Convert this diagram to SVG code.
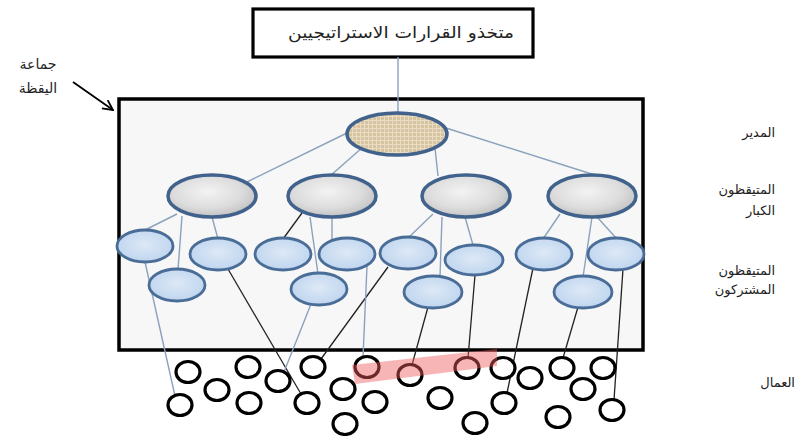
<svg xmlns="http://www.w3.org/2000/svg" width="810" height="436" viewBox="0 0 810 436">
<defs>
<style>
.lbl{font-family:"DejaVu Sans","Noto Sans",sans-serif;font-size:13px;fill:#222}
.tree{stroke:#8aa2bc;stroke-width:1.4;fill:none}
.blk{stroke:#222;stroke-width:1.3;fill:none}
.sen{fill:url(#gGray);stroke:#41628c;stroke-width:3.5}
.par{fill:url(#gBlue);stroke:#4a6d98;stroke-width:2.8}
.wk{fill:#fff;stroke:#000;stroke-width:3.2}
</style>
<pattern id="pTan" width="4" height="4" patternUnits="userSpaceOnUse">
<rect width="4" height="4" fill="#d6c4a0"/>
<path d="M0,0.5H4M0.5,0V4" stroke="#e9dcc2" stroke-width="1"/>
</pattern>
<radialGradient id="gGray" cx="0.45" cy="0.4" r="0.65">
<stop offset="0" stop-color="#f3f3f3"/>
<stop offset="0.6" stop-color="#dcdcdc"/>
<stop offset="1" stop-color="#bdbdbd"/>
</radialGradient>
<radialGradient id="gBlue" cx="0.5" cy="0.45" r="0.6">
<stop offset="0" stop-color="#dde9f6"/>
<stop offset="1" stop-color="#bcd3ee"/>
</radialGradient>
<marker id="arr" viewBox="0 0 12 12" refX="11" refY="6" markerWidth="12" markerHeight="12" markerUnits="userSpaceOnUse" orient="auto">
<path d="M1,1 L11,6 L1,11" fill="none" stroke="#000" stroke-width="1.8"/>
</marker>
</defs>

<rect width="810" height="436" fill="#fff"/>

<g id="group-frame">
<rect x="119" y="99" width="524" height="251" fill="#f7f7f7" stroke="#000" stroke-width="3.5"/>
</g>

<g id="top-box">
<rect x="253" y="9" width="280" height="48" fill="#fff" stroke="#000" stroke-width="3.2"/>
<text x="401" y="38" text-anchor="middle" class="lbl" style="font-size:16px" textLength="226" lengthAdjust="spacingAndGlyphs">متخذو القرارات الاستراتيجيين</text>
</g>

<g id="label-group">
<text x="38" y="69" text-anchor="middle" class="lbl" style="font-size:14px">جماعة</text>
<text x="38" y="93" text-anchor="middle" class="lbl" style="font-size:14px">اليقظة</text>
<line x1="73" y1="82" x2="113" y2="110" stroke="#000" stroke-width="1.8" marker-end="url(#arr)"/>
</g>

<g id="connectors">
<line class="tree" x1="398" y1="57" x2="398" y2="114"/>
<line class="tree" x1="349" y1="132" x2="247" y2="182"/>
<line class="tree" x1="363" y1="147" x2="330" y2="176"/>
<line class="tree" x1="435" y1="148" x2="438" y2="176"/>
<line class="tree" x1="446" y1="128" x2="598" y2="176"/>
<line class="tree" x1="177" y1="214" x2="143" y2="231"/>
<line class="tree" x1="182" y1="216" x2="178" y2="270"/>
<line class="tree" x1="212" y1="217" x2="218" y2="239"/>
<line class="blk" x1="302" y1="213" x2="283" y2="239"/>
<line class="tree" x1="310" y1="217" x2="318" y2="274"/>
<line class="tree" x1="332" y1="217" x2="332" y2="241"/>
<line class="tree" x1="433" y1="214" x2="408" y2="238"/>
<line class="tree" x1="442" y1="217" x2="440" y2="277"/>
<line class="tree" x1="465" y1="217" x2="473" y2="245"/>
<line class="tree" x1="560" y1="214" x2="543" y2="239"/>
<line class="tree" x1="592" y1="217" x2="583" y2="277"/>
<line class="tree" x1="597" y1="217" x2="617" y2="239"/>
<line class="tree" x1="145" y1="262" x2="175" y2="396"/>
<line class="blk" x1="228" y1="269" x2="301" y2="394"/>
<line class="tree" x1="311" y1="304" x2="284" y2="372"/>
<line class="blk" x1="388" y1="267" x2="321" y2="359"/>
<line class="tree" x1="367" y1="266" x2="363" y2="357"/>
<line class="blk" x1="428" y1="307" x2="412" y2="365"/>
<line class="blk" x1="475" y1="275" x2="468" y2="358"/>
<line class="blk" x1="533" y1="268" x2="507" y2="393"/>
<line class="blk" x1="578" y1="307" x2="563" y2="358"/>
<line class="blk" x1="623" y1="269" x2="614" y2="400"/>
</g>

<g id="manager"><ellipse cx="397" cy="134" rx="50" ry="21" fill="url(#pTan)" stroke="#41628c" stroke-width="3.5"/></g>

<g id="senior-1"><ellipse class="sen" cx="212" cy="196" rx="44" ry="21"/></g>
<g id="senior-2"><ellipse class="sen" cx="332" cy="196" rx="44" ry="21"/></g>
<g id="senior-3"><ellipse class="sen" cx="466" cy="196" rx="44" ry="21"/></g>
<g id="senior-4"><ellipse class="sen" cx="592" cy="196" rx="44" ry="21"/></g>

<g id="part-a"><ellipse class="par" cx="145" cy="246" rx="28" ry="16"/></g>
<g id="part-b"><ellipse class="par" cx="177" cy="285" rx="28" ry="16"/></g>
<g id="part-c"><ellipse class="par" cx="218" cy="254" rx="28" ry="16"/></g>
<g id="part-d"><ellipse class="par" cx="283" cy="254" rx="28" ry="16"/></g>
<g id="part-e"><ellipse class="par" cx="347" cy="254" rx="28" ry="16"/></g>
<g id="part-f"><ellipse class="par" cx="319" cy="289" rx="28" ry="16"/></g>
<g id="part-g"><ellipse class="par" cx="408" cy="253" rx="28" ry="16"/></g>
<g id="part-h"><ellipse class="par" cx="474" cy="260" rx="29" ry="15"/></g>
<g id="part-i"><ellipse class="par" cx="433" cy="292" rx="29" ry="16"/></g>
<g id="part-j"><ellipse class="par" cx="544" cy="254" rx="28" ry="16"/></g>
<g id="part-k"><ellipse class="par" cx="616" cy="254" rx="28" ry="16"/></g>
<g id="part-l"><ellipse class="par" cx="583" cy="292" rx="29" ry="16"/></g>

<g id="workers">
<ellipse class="wk" cx="188" cy="372" rx="12" ry="10.5"/>
<ellipse class="wk" cx="180" cy="405" rx="12" ry="10.5"/>
<ellipse class="wk" cx="217" cy="390" rx="12" ry="10.5"/>
<ellipse class="wk" cx="248" cy="367" rx="12" ry="10.5"/>
<ellipse class="wk" cx="249" cy="403" rx="12" ry="10.5"/>
<ellipse class="wk" cx="278" cy="381" rx="12" ry="10.5"/>
<ellipse class="wk" cx="307" cy="403" rx="12" ry="10.5"/>
<ellipse class="wk" cx="313" cy="367" rx="12" ry="10.5"/>
<ellipse class="wk" cx="343" cy="389" rx="12" ry="10.5"/>
<ellipse class="wk" cx="345" cy="424" rx="12" ry="10.5"/>
<ellipse class="wk" cx="367" cy="367" rx="12" ry="10.5"/>
<ellipse class="wk" cx="375" cy="402" rx="12" ry="10.5"/>
<ellipse class="wk" cx="410" cy="375" rx="12" ry="10.5"/>
<ellipse class="wk" cx="440" cy="398" rx="12" ry="10.5"/>
<ellipse class="wk" cx="467" cy="368" rx="12" ry="10.5"/>
<ellipse class="wk" cx="475" cy="423" rx="12" ry="10.5"/>
<ellipse class="wk" cx="503" cy="368" rx="12" ry="10.5"/>
<ellipse class="wk" cx="504" cy="403" rx="12" ry="10.5"/>
<ellipse class="wk" cx="530" cy="378" rx="12" ry="10.5"/>
<ellipse class="wk" cx="562" cy="368" rx="12" ry="10.5"/>
<ellipse class="wk" cx="583" cy="389" rx="12" ry="10.5"/>
<ellipse class="wk" cx="558" cy="417" rx="12" ry="10.5"/>
<ellipse class="wk" cx="603" cy="368" rx="12" ry="10.5"/>
<ellipse class="wk" cx="612" cy="410" rx="12" ry="10.5"/>
</g>

<g id="highlight">
<polygon points="352,365 497,349 497,366 355,384" fill="#ee5a5a" fill-opacity="0.45"/>
</g>

<g id="level-labels">
<text x="775" y="137" text-anchor="end" class="lbl">المدير</text>
<text x="775" y="194" text-anchor="end" class="lbl">المتيقظون</text>
<text x="775" y="215" text-anchor="end" class="lbl">الكبار</text>
<text x="775" y="275" text-anchor="end" class="lbl">المتيقظون</text>
<text x="775" y="294" text-anchor="end" class="lbl">المشتركون</text>
<text x="795" y="387" text-anchor="end" class="lbl">العمال</text>
</g>
</svg>
